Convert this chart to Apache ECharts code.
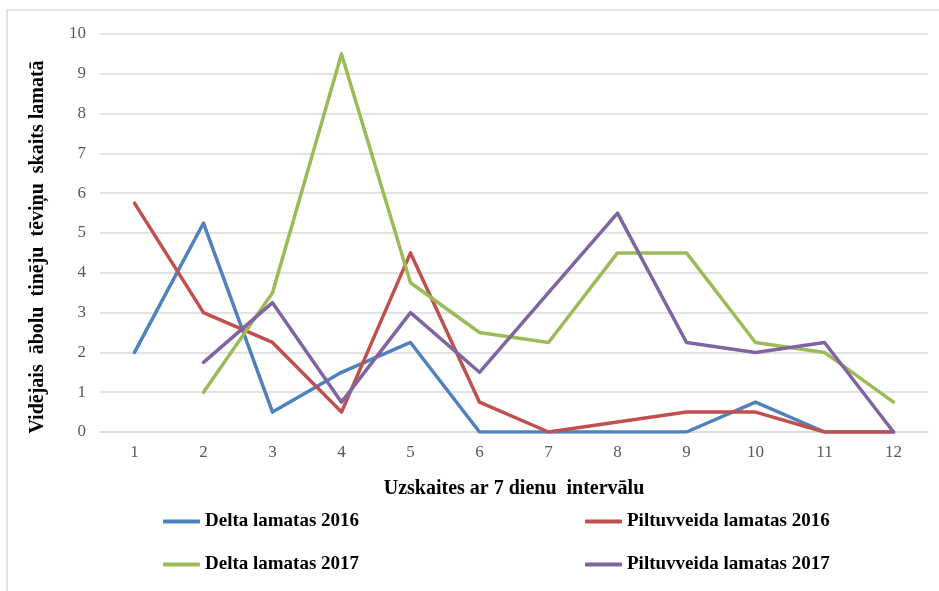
<!DOCTYPE html>
<html>
<head>
<meta charset="utf-8">
<script src="https://cdn.jsdelivr.net/npm/echarts@6/dist/echarts.min.js"></script>
<style>
  html, body { margin: 0; padding: 0; background: #ffffff; }
  #chart { width: 939px; height: 591px; }
</style>
</head>
<body>
<div id="chart"></div>
<script>
// Weekly counts (7-day intervals)
var categories = ['1', '2', '3', '4', '5', '6', '7', '8', '9', '10', '11', '12'];

var deltaLamatas2016 = [2, 5.25, 0.5, 1.5, 2.25, 0, 0, 0, 0, 0.75, 0, 0];
var piltuvveidaLamatas2016 = [5.75, 3, 2.25, 0.5, 4.5, 0.75, 0, 0.25, 0.5, 0.5, 0, 0];
var deltaLamatas2017 = [null, 1, 3.5, 9.5, 3.75, 2.5, 2.25, 4.5, 4.5, 2.25, 2, 0.75];
var piltuvveidaLamatas2017 = [null, 1.75, 3.25, 0.75, 3, 1.5, 3.5, 5.5, 2.25, 2, 2.25, 0];

var yTicks = [0, 1, 2, 3, 4, 5, 6, 7, 8, 9, 10];

var seriesNames = ['Delta lamatas 2016', 'Piltuvveida lamatas 2016', 'Delta lamatas 2017', 'Piltuvveida lamatas 2017'];
var seriesColors = ['#4F81BD', '#C0504D', '#9BBB59', '#8064A2'];
var seriesData = [deltaLamatas2016, piltuvveidaLamatas2016, deltaLamatas2017, piltuvveidaLamatas2017];

var serif = '"Liberation Serif", "Times New Roman", serif';

var chart = echarts.init(document.getElementById('chart'), null, { renderer: 'canvas' });

var series = seriesNames.map(function (name, i) {
  return {
    name: name,
    type: 'line',
    data: seriesData[i],
    symbol: 'none',
    connectNulls: false,
    lineStyle: { color: seriesColors[i], width: 3.5, join: 'round', cap: 'round' },
    itemStyle: { color: seriesColors[i] },
    z: 3 + i
  };
});

var legendCommon = {
  icon: 'roundRect',
  itemWidth: 37,
  itemHeight: 4,
  itemGap: 0,
  textStyle: { fontFamily: serif, fontWeight: 'bold', fontSize: 19, color: '#000000' }
};

chart.setOption({
  animation: false,
  backgroundColor: '#ffffff',
  graphic: [{
    type: 'rect',
    shape: { x: 7, y: 10, width: 950, height: 600 },
    style: { fill: 'none', stroke: '#d9d9d9', lineWidth: 1.5 },
    silent: true
  }],
  grid: { left: 100, right: 11, top: 34, bottom: 159, containLabel: false },
  legend: [
    Object.assign({ data: [seriesNames[0]], left: 158, top: 507 }, legendCommon),
    Object.assign({ data: [seriesNames[1]], left: 580, top: 507 }, legendCommon),
    Object.assign({ data: [seriesNames[2]], left: 158, top: 550 }, legendCommon),
    Object.assign({ data: [seriesNames[3]], left: 580, top: 550 }, legendCommon)
  ],
  xAxis: {
    type: 'category',
    data: categories,
    boundaryGap: true,
    name: 'Uzskaites ar 7 dienu  intervālu',
    nameLocation: 'middle',
    nameGap: 47,
    nameTextStyle: { fontFamily: serif, fontWeight: 'bold', fontSize: 20, color: '#000000' },
    axisLine: { show: true, lineStyle: { color: '#d9d9d9', width: 1.5 } },
    axisTick: { show: false },
    axisLabel: { fontFamily: serif, fontSize: 17, color: '#595959', margin: 12 },
    splitLine: { show: false }
  },
  yAxis: {
    type: 'value',
    min: yTicks[0],
    max: yTicks[yTicks.length - 1],
    interval: 1,
    name: 'Vidējais  ābolu  tinēju  tēviņu  skaits lamatā',
    nameLocation: 'middle',
    nameGap: 52,
    nameRotate: 90,
    nameTextStyle: { fontFamily: serif, fontWeight: 'bold', fontSize: 20, color: '#000000', padding: [0, 28, 0, 0] },
    axisLine: { show: false },
    axisTick: { show: false },
    axisLabel: { fontFamily: serif, fontSize: 17, color: '#595959', margin: 14 },
    splitLine: { show: true, lineStyle: { color: '#d9d9d9', width: 1.5 } }
  },
  series: series
});
</script>
</body>
</html>
